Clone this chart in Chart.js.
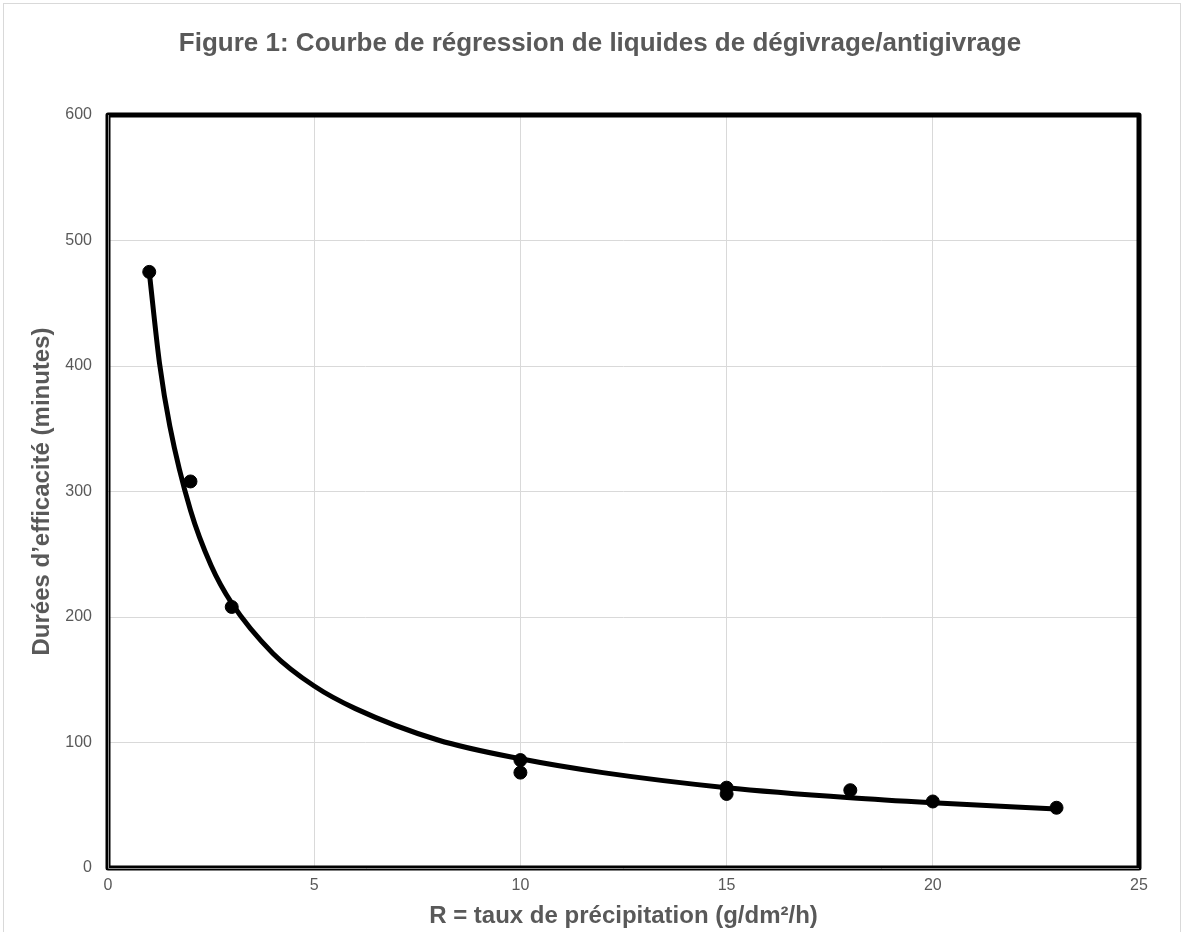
<!DOCTYPE html>
<html>
<head>
<meta charset="utf-8">
<script src="https://cdn.jsdelivr.net/npm/chart.js@4/dist/chart.umd.min.js"></script>
<style>
  html, body { margin: 0; padding: 0; background: #fff; }
  #wrap { width: 1185px; height: 932px; position: relative; }
</style>
</head>
<body>
<div id="wrap"><canvas id="mycanvas" width="1185" height="932"></canvas></div>
<script>
// measured points
var rateX = [1, 2, 3, 10, 10, 15, 15, 18, 20, 23];
var durationY = [475, 308, 208, 86, 76, 64, 59, 62, 53, 48];

// regression curve
var curveX = [1, 1.25, 1.5, 2, 2.5, 3, 4, 5, 6, 8, 10, 12, 15, 18, 20, 23];
var curveY = [475, 402, 352, 285, 241, 211, 171, 145, 127, 102, 87, 76, 64, 56, 52, 47];

var xTicks = [0, 5, 10, 15, 20, 25];
var yTicks = [0, 100, 200, 300, 400, 500, 600];

var chartTitle = 'Figure 1: Courbe de régression de liquides de dégivrage/antigivrage';

var grey = '#595959';
var fontFamily = 'Liberation Sans, Arial, sans-serif';

function toXY(xs, ys) {
	var out = [];
	for (var i in xs) {
		out.push({x: xs[i], y: ys[i]});
	}
	return out;
}

// thick frame round the plot area, light frame round the page, and the title
var framePlugin = {
	id: 'frame',
	beforeDraw: function(chart) {
		var ctx = chart.ctx;
		ctx.save();
		ctx.strokeStyle = '#d9d9d9';
		ctx.lineWidth = 1;
		ctx.strokeRect(3.5, 3.5, 1177, 940);
		ctx.fillStyle = grey;
		ctx.font = 'bold 26px ' + fontFamily;
		ctx.textAlign = 'center';
		ctx.textBaseline = 'middle';
		ctx.fillText(chartTitle, 600, 44);
		ctx.restore();
	},
	afterDatasetsDraw: function(chart) {
		var a = chart.chartArea;
		var ctx = chart.ctx;
		ctx.save();
		ctx.strokeStyle = '#000';
		ctx.lineWidth = 5;
		ctx.lineJoin = 'round';
		ctx.strokeRect(a.left, a.top, a.right - a.left, a.bottom - a.top);
		ctx.strokeStyle = '#8c8c8c';
		ctx.lineWidth = 1;
		ctx.beginPath();
		ctx.moveTo(a.left + 0.5, a.top);
		ctx.lineTo(a.left + 0.5, a.bottom + 0.5);
		ctx.lineTo(a.right, a.bottom + 0.5);
		ctx.stroke();
		ctx.restore();
	}
};

var ctx = document.getElementById('mycanvas');

new Chart(ctx, {
	type: 'scatter',
	data: {
		datasets: [
			{
				label: 'Courbe',
				type: 'line',
				data: toXY(curveX, curveY),
				borderColor: '#000',
				borderWidth: 5,
				pointRadius: 0,
				fill: false,
				cubicInterpolationMode: 'monotone'
			},
			{
				label: 'Mesures',
				data: toXY(rateX, durationY),
				backgroundColor: '#000',
				borderColor: '#000',
				pointRadius: 6.5,
				pointHoverRadius: 6.5
			}
		]
	},
	options: {
		responsive: false,
		animation: false,
		layout: { padding: { left: 0, right: 46, top: 115, bottom: 0 } },
		plugins: {
			legend: { display: false },
			tooltip: { enabled: false },
			title: { display: false }
		},
		scales: {
			x: {
				type: 'linear',
				min: 0,
				max: 25,
				afterBuildTicks: function(scale) {
					scale.ticks = xTicks.map(function(v) { return {value: v}; });
				},
				afterFit: function(scale) { scale.height = 64; },
				grid: { color: '#d9d9d9', lineWidth: 1, drawTicks: false },
				border: { display: false },
				ticks: {
					color: grey,
					padding: 8,
					font: { family: fontFamily, size: 16 }
				},
				title: {
					display: true,
					text: 'R = taux de précipitation (g/dm²/h)',
					color: grey,
					font: { family: fontFamily, size: 24, weight: 'bold' },
					padding: { top: 0, bottom: 1 }
				}
			},
			y: {
				min: 0,
				max: 600,
				afterBuildTicks: function(scale) {
					scale.ticks = yTicks.map(function(v) { return {value: v}; });
				},
				afterFit: function(scale) { scale.width = 108; },
				grid: { color: '#d9d9d9', lineWidth: 1, drawTicks: false },
				border: { display: false },
				ticks: {
					color: grey,
					padding: 16,
					font: { family: fontFamily, size: 16 }
				},
				title: {
					display: true,
					text: 'Durées d’efficacité (minutes)',
					color: grey,
					font: { family: fontFamily, size: 24, weight: 'bold' },
					padding: { top: 28, bottom: 0 }
				}
			}
		}
	},
	plugins: [framePlugin]
});
</script>
</body>
</html>
